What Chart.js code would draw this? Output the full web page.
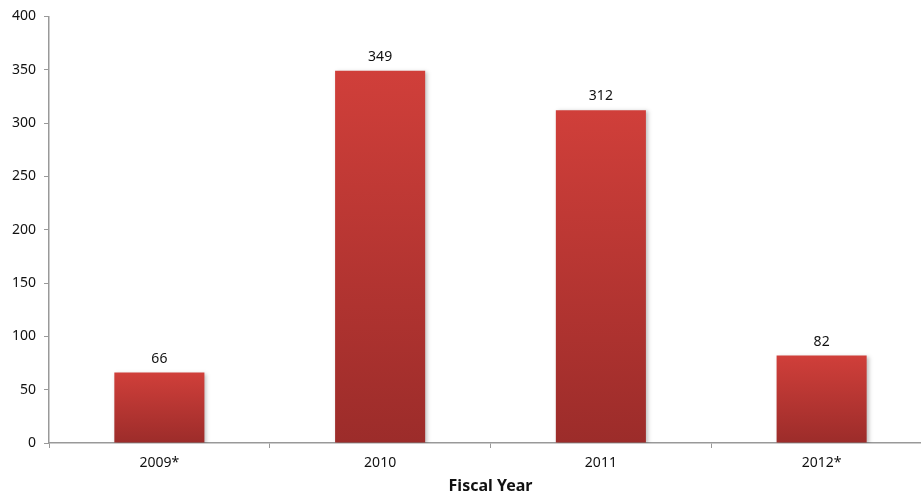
<!DOCTYPE html>
<html>
<head>
<meta charset="utf-8">
<script src="https://cdn.jsdelivr.net/npm/chart.js@4/dist/chart.umd.min.js"></script>
<style>
  html, body { margin: 0; padding: 0; background: #fff; overflow: hidden; }
  #wrap { width: 932px; height: 496px; }
</style>
</head>
<body>
<div id="wrap"><canvas id="chart" width="932" height="496"></canvas></div>
<script>
'use strict';

// ── Datos ─────
const YEARS  = ['2009*', '2010', '2011', '2012*'];
const VALUES = [66, 349, 312, 82];
const Y_MAX  = 400;
const Y_STEP = 50;
const X_TITLE = 'Fiscal Year';

// ── Colores ─────
const RED_TOP = '#d03f3a';
const RED_BOT = '#9c2c2a';
const AXIS    = '#999999';
const FONT    = "'Noto Sans', 'Open Sans', sans-serif";

// Degradado vertical por barra (arriba claro, abajo oscuro)
function barGradient(ctx) {
  const chart = ctx.chart;
  const area = chart.chartArea;
  if (!area || ctx.parsed === undefined) return RED_TOP;
  const y = chart.scales.y;
  const top = y.getPixelForValue(ctx.parsed.y);
  const g = chart.ctx.createLinearGradient(0, top, 0, area.bottom);
  g.addColorStop(0, RED_TOP);
  g.addColorStop(1, RED_BOT);
  return g;
}

// Sombra suave detrás de las barras
const barShadow = {
  id: 'barShadow',
  beforeDatasetsDraw(chart) {
    const c = chart.ctx;
    c.save();
    c.shadowColor = 'rgba(0,0,0,0.25)';
    c.shadowBlur = 4;
    c.shadowOffsetX = 2;
    c.shadowOffsetY = 1;
  },
  afterDatasetsDraw(chart) {
    chart.ctx.restore();
  }
};

// Etiquetas de valor encima de cada barra
const valueLabels = {
  id: 'valueLabels',
  afterDatasetsDraw(chart) {
    const c = chart.ctx;
    const meta = chart.getDatasetMeta(0);
    c.save();
    c.fillStyle = '#111';
    c.font = `14px ${FONT}`;
    c.textAlign = 'center';
    c.textBaseline = 'bottom';
    meta.data.forEach((bar, i) => {
      c.fillText(String(VALUES[i]), bar.x, bar.y - 7);
    });
    c.restore();
  }
};

new Chart(document.getElementById('chart'), {
  type: 'bar',
  data: {
    labels: YEARS,
    datasets: [{
      data: VALUES,
      backgroundColor: barGradient,
      borderWidth: 0,
      barPercentage: 0.408,
      categoryPercentage: 1.0,
    }]
  },
  options: {
    responsive: false,
    animation: false,
    devicePixelRatio: 1,
    layout: { padding: { top: 16, right: 0, left: 0, bottom: 0 } },
    plugins: {
      legend: { display: false },
      tooltip: { enabled: false },
      title: { display: false }
    },
    scales: {
      x: {
        offset: true,
        grid: {
          offset: true,
          drawOnChartArea: false,
          drawTicks: true,
          tickLength: 5,
          color: AXIS,
        },
        border: { color: AXIS, width: 1.5 },
        ticks: { color: '#111', font: { family: FONT, size: 14 }, padding: 7 },
        title: {
          display: true,
          text: X_TITLE,
          color: '#111',
          font: { family: FONT, size: 16, weight: 'bold' },
          padding: { top: 2, bottom: 0 }
        },
        afterFit(scale) { scale.height = 53; }
      },
      y: {
        min: 0,
        max: Y_MAX,
        grid: {
          drawOnChartArea: false,
          drawTicks: true,
          tickLength: 5,
          color: AXIS,
        },
        border: { color: AXIS, width: 1.5 },
        ticks: {
          stepSize: Y_STEP,
          color: '#111',
          font: { family: FONT, size: 14 },
          padding: 8
        },
        afterFit(scale) { scale.width = 49; }
      }
    }
  },
  plugins: [barShadow, valueLabels]
});
</script>
</body>
</html>
